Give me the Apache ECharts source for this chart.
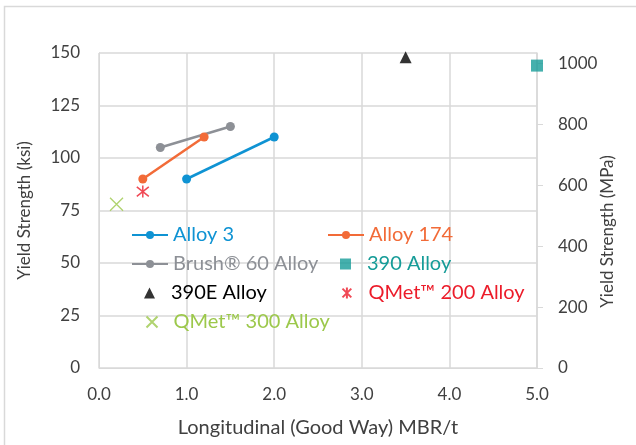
<!DOCTYPE html>
<html>
<head>
<meta charset="utf-8">
<script src="https://cdn.jsdelivr.net/npm/echarts@6/dist/echarts.min.js"></script>
<style>
  html, body { margin: 0; padding: 0; background: #fff; }
  #chart { width: 636px; height: 445px; }
</style>
</head>
<body>
<div id="chart"></div>
<script>
// [MBR/t, ksi]
const alloy3 = [[1.0, 90], [2.0, 110]]
const alloy174 = [[0.5, 90], [1.2, 110]]
const brush60 = [[0.7, 105], [1.5, 115]]
const alloy390 = [[5.0, 144]]
const alloy390E = [[3.5, 148]]
const qmet200 = [[0.5, 84]]
const qmet300 = [[0.2, 78]]

const xTicks = [0, 1, 2, 3, 4, 5]
const ksiTicks = [0, 25, 50, 75, 100, 125, 150]
const KSI_TO_MPA = 6.894757

const fontFamily = 'Lato, "Open Sans", sans-serif'
const gridGray = '#d9d9d9'
const labelGray = '#404040'

const colors = {
  alloy3: '#0f93d3',
  alloy174: '#f26b38',
  brush60: '#8d9096',
  alloy390: '#169c98',
  alloy390E: '#000000',
  qmet200: '#ec1c2a',
  qmet300: '#9cc84b'
}

const xPath = 'path://M0,0L10,10M10,0L0,10'
const starPath = 'path://M1,1L9,9M9,1L1,9M5,0L5,10'

function lineSeries(name, data, color) {
  return {
    name, type: 'line', data, color,
    symbol: 'circle', symbolSize: 9,
    lineStyle: { width: 2.5, color },
    itemStyle: { color }
  }
}

// one legend box per entry so line and marker entries line up like the original
function legendEntry(name, color, left, top, isLine) {
  return {
    left, top, padding: 0,
    itemWidth: isLine ? 36 : 11,
    itemHeight: isLine ? 10 : 11,
    textStyle: {
      fontSize: 20, fontFamily, color,
      padding: isLine ? 0 : [0, 0, 0, 11]
    },
    data: [name]
  }
}

const rowTop = [225, 254, 283, 312]

const chart = echarts.init(document.getElementById('chart'))
chart.setOption({
  animation: false,
  textStyle: { fontFamily },
  graphic: [{
    type: 'rect',
    shape: { x: 4.5, y: 6.5, width: 700, height: 500 },
    style: { fill: 'none', stroke: gridGray, lineWidth: 1.5 },
    silent: true
  }],
  grid: { left: 99, right: 99, top: 53, bottom: 77 },
  legend: [
    legendEntry('Alloy 3', colors.alloy3, 131, rowTop[0], true),
    legendEntry('Brush® 60 Alloy', colors.brush60, 131, rowTop[1], true),
    legendEntry('390E Alloy', colors.alloy390E, 144, rowTop[2], false),
    legendEntry('QMet™ 300 Alloy', colors.qmet300, 144, rowTop[3], false),
    legendEntry('Alloy 174', colors.alloy174, 327, rowTop[0], true),
    legendEntry('390 Alloy', colors.alloy390, 340, rowTop[1], false),
    legendEntry('QMet™ 200 Alloy', colors.qmet200, 340, rowTop[2], false)
  ],
  xAxis: {
    type: 'value',
    min: xTicks[0], max: xTicks[xTicks.length - 1], interval: 1,
    name: 'Longitudinal (Good Way) MBR/t',
    nameLocation: 'middle', nameGap: 50,
    nameTextStyle: { fontSize: 20, color: labelGray, fontFamily },
    axisLine: { lineStyle: { color: gridGray } },
    axisTick: { show: false },
    axisLabel: {
      fontSize: 17, color: labelGray, margin: 18,
      formatter: v => v.toFixed(1)
    },
    splitLine: { lineStyle: { color: gridGray, width: 1.5 } }
  },
  yAxis: [{
    type: 'value',
    min: ksiTicks[0], max: ksiTicks[ksiTicks.length - 1], interval: 25,
    name: 'Yield Strength (ksi)',
    nameLocation: 'middle', nameGap: 66, nameRotate: 90, nameMoveOverlap: false,
    nameTextStyle: { fontSize: 17, color: labelGray, fontFamily },
    axisLine: { show: true, lineStyle: { color: gridGray } },
    axisTick: { show: false },
    axisLabel: { fontSize: 17, color: labelGray, margin: 19 },
    splitLine: { lineStyle: { color: gridGray, width: 1.5 } }
  }, {
    type: 'value',
    position: 'right',
    min: 0, max: ksiTicks[ksiTicks.length - 1] * KSI_TO_MPA, interval: 200,
    name: 'Yield Strength (MPa)',
    nameLocation: 'middle', nameGap: 62, nameRotate: 90, nameMoveOverlap: false,
    nameTextStyle: { fontSize: 17, color: labelGray, fontFamily, padding: [0, 42, 0, 0] },
    axisLine: { show: true, lineStyle: { color: gridGray, width: 1.5 } },
    axisTick: { show: true, length: 6, lineStyle: { color: gridGray } },
    axisLabel: {
      fontSize: 17, color: labelGray, margin: 21, showMaxLabel: false,
      formatter: v => String(v)
    },
    splitLine: { show: false }
  }],
  series: [
    lineSeries('Alloy 3', alloy3, colors.alloy3),
    lineSeries('Alloy 174', alloy174, colors.alloy174),
    lineSeries('Brush® 60 Alloy', brush60, colors.brush60),
    {
      name: '390 Alloy', type: 'scatter', data: alloy390,
      symbol: 'rect', symbolSize: 12, itemStyle: { color: colors.alloy390 }
    },
    {
      name: '390E Alloy', type: 'scatter', data: alloy390E,
      symbol: 'triangle', symbolSize: [12, 12], itemStyle: { color: colors.alloy390E }
    },
    {
      name: 'QMet™ 200 Alloy', type: 'scatter', data: qmet200,
      symbol: starPath, symbolSize: 12,
      itemStyle: { color: 'none', borderColor: colors.qmet200, borderWidth: 1.5 }
    },
    {
      name: 'QMet™ 300 Alloy', type: 'scatter', data: qmet300,
      symbol: xPath, symbolSize: 13,
      itemStyle: { color: 'none', borderColor: colors.qmet300, borderWidth: 1.3 }
    }
  ]
})
</script>
</body>
</html>
